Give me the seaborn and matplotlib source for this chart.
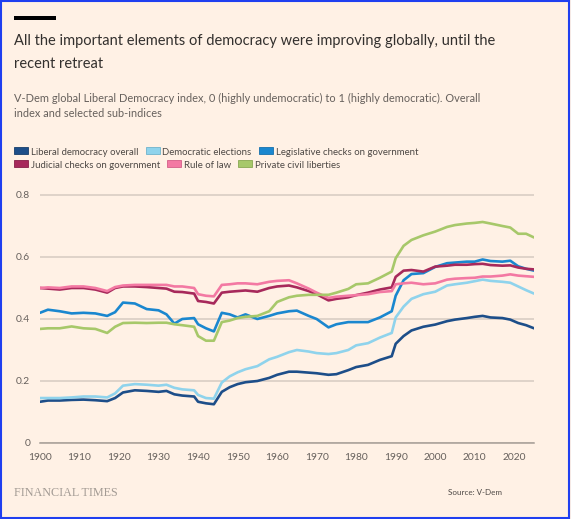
import matplotlib
matplotlib.use("Agg")
import matplotlib.pyplot as plt
from matplotlib.patches import Rectangle
import pandas as pd
import seaborn as sns

# values
years = [1900, 1902, 1905, 1908, 1911, 1914, 1917, 1919, 1921, 1924, 1927, 1930, 1932,
         1934, 1936, 1939, 1940, 1942, 1944, 1946, 1948, 1950, 1952, 1955, 1958, 1960,
         1963, 1965, 1968, 1970, 1973, 1975, 1978, 1980, 1983, 1986, 1989, 1990, 1992,
         1994, 1997, 2000, 2003, 2005, 2008, 2010, 2012, 2014, 2017, 2019, 2021, 2023, 2025]

liberal_democracy = [0.133, 0.137, 0.137, 0.139, 0.140, 0.138, 0.135, 0.145, 0.163, 0.170, 0.168, 0.165, 0.168,
                     0.157, 0.153, 0.150, 0.133, 0.128, 0.125, 0.165, 0.180, 0.190, 0.196, 0.200, 0.210, 0.220,
                     0.230, 0.230, 0.227, 0.225, 0.220, 0.222, 0.235, 0.245, 0.252, 0.268, 0.280, 0.320, 0.345,
                     0.363, 0.375, 0.382, 0.393, 0.398, 0.403, 0.407, 0.410, 0.405, 0.403, 0.398, 0.387, 0.380, 0.370]
democratic_elections = [0.145, 0.145, 0.145, 0.147, 0.150, 0.150, 0.147, 0.160, 0.185, 0.190, 0.188, 0.185, 0.188,
                        0.178, 0.173, 0.170, 0.155, 0.145, 0.143, 0.195, 0.215, 0.228, 0.238, 0.248, 0.270, 0.278,
                        0.293, 0.300, 0.295, 0.290, 0.287, 0.290, 0.300, 0.315, 0.322, 0.340, 0.355, 0.405, 0.440,
                        0.465, 0.480, 0.488, 0.508, 0.512, 0.517, 0.522, 0.527, 0.523, 0.520, 0.517, 0.505, 0.493, 0.482]
legislative_checks = [0.420, 0.430, 0.425, 0.418, 0.420, 0.418, 0.410, 0.422, 0.453, 0.450, 0.432, 0.428, 0.415,
                      0.385, 0.400, 0.403, 0.383, 0.370, 0.360, 0.420, 0.415, 0.405, 0.415, 0.400, 0.410, 0.418,
                      0.425, 0.427, 0.410, 0.400, 0.373, 0.383, 0.390, 0.390, 0.390, 0.405, 0.425, 0.475, 0.525,
                      0.545, 0.548, 0.568, 0.580, 0.582, 0.585, 0.585, 0.592, 0.587, 0.585, 0.588, 0.570, 0.562, 0.556]
judicial_checks = [0.500, 0.498, 0.495, 0.500, 0.500, 0.495, 0.485, 0.500, 0.505, 0.505, 0.503, 0.500, 0.498,
                   0.488, 0.487, 0.482, 0.458, 0.455, 0.450, 0.485, 0.488, 0.490, 0.492, 0.488, 0.500, 0.505,
                   0.508, 0.502, 0.490, 0.480, 0.460, 0.465, 0.470, 0.477, 0.485, 0.495, 0.502, 0.536, 0.556,
                   0.558, 0.553, 0.569, 0.572, 0.575, 0.575, 0.577, 0.578, 0.574, 0.572, 0.573, 0.566, 0.562, 0.560]
rule_of_law = [0.500, 0.502, 0.500, 0.505, 0.505, 0.500, 0.490, 0.503, 0.508, 0.510, 0.510, 0.510, 0.510,
               0.505, 0.505, 0.500, 0.480, 0.475, 0.473, 0.510, 0.512, 0.515, 0.515, 0.512, 0.520, 0.523,
               0.525, 0.515, 0.498, 0.485, 0.468, 0.472, 0.475, 0.477, 0.480, 0.487, 0.490, 0.512, 0.515,
               0.517, 0.512, 0.515, 0.527, 0.530, 0.532, 0.533, 0.537, 0.537, 0.540, 0.544, 0.540, 0.538, 0.536]
civil_liberties = [0.368, 0.370, 0.370, 0.376, 0.370, 0.368, 0.355, 0.375, 0.387, 0.388, 0.387, 0.388, 0.388,
                   0.383, 0.380, 0.375, 0.345, 0.330, 0.330, 0.390, 0.395, 0.403, 0.407, 0.410, 0.425, 0.455,
                   0.470, 0.475, 0.478, 0.478, 0.478, 0.485, 0.497, 0.512, 0.515, 0.533, 0.553, 0.596, 0.636,
                   0.655, 0.670, 0.682, 0.697, 0.703, 0.708, 0.710, 0.713, 0.708, 0.700, 0.695, 0.675, 0.675, 0.663]

series_names = ["Liberal democracy overall", "Democratic elections", "Legislative checks on government",
                "Judicial checks on government", "Rule of law", "Private civil liberties"]
series_colors = ["#1d4e89", "#8fd3ec", "#1a87cf", "#a7295b", "#f379a3", "#a7c86a"]
edge_colors = ["#163d6b", "#6fb3cc", "#1570ad", "#871f48", "#d45e88", "#89a852"]

x_ticks = list(range(1900, 2021, 10))
y_ticks = [0, 0.2, 0.4, 0.6, 0.8]
y_tick_labels = ["0", "0.2", "0.4", "0.6", "0.8"]

title_lines = ["All the important elements of democracy were improving globally, until the",
               "recent retreat"]
subtitle_lines = ["V-Dem global Liberal Democracy index, 0 (highly undemocratic) to 1 (highly democratic). Overall",
                  "index and selected sub-indices"]

BG = "#fff1e5"
W, H = 571, 519

wide = pd.DataFrame({"year": years})
for name, vals in zip(series_names, [liberal_democracy, democratic_elections, legislative_checks,
                                     judicial_checks, rule_of_law, civil_liberties]):
    wide[name] = vals
long_df = wide.melt(id_vars="year", var_name="series", value_name="value")

sns.set_style("white", {"axes.facecolor": BG, "figure.facecolor": BG})
plt.rcParams["font.family"] = ["Lato", "DejaVu Sans"]

fig = plt.figure(figsize=(W / 100, H / 100), dpi=100)
fig.patch.set_facecolor(BG)


def fx(px):
    return px / W


def fy(py):
    return 1 - py / H


ymax = 0.81
ax = fig.add_axes([fx(40), fy(443), fx(534 - 40), (ymax * 310) / H])
ax.set_facecolor(BG)

sns.lineplot(data=long_df, x="year", y="value", hue="series", hue_order=series_names,
             palette=dict(zip(series_names, series_colors)), linewidth=1.9,
             estimator=None, legend=False, ax=ax)

ax.set_xlim(1900, 2025)
ax.set_ylim(0, ymax)
ax.set_xticks(x_ticks)
ax.set_yticks(y_ticks)
ax.set_yticklabels(y_tick_labels)
ax.set_xlabel("")
ax.set_ylabel("")
ax.grid(axis="y", color="#d6cbc1", linewidth=1.1)
ax.set_axisbelow(True)
for s in ["top", "right", "left"]:
    ax.spines[s].set_visible(False)
ax.spines["bottom"].set_color("#a59d96")
ax.spines["bottom"].set_linewidth(1.1)
ax.tick_params(axis="x", length=4.5, width=1.1, color="#a59d96", pad=3,
               labelsize=7.4, labelcolor="#66605c")
ax.tick_params(axis="y", length=0, pad=7, labelsize=7.4, labelcolor="#66605c")

renderer = fig.canvas.get_renderer()


def fit(t, width_px):
    w = t.get_window_extent(renderer).width
    t.set_fontsize(t.get_fontsize() * width_px / w)


# header
fig.patches.append(Rectangle((fx(14), fy(19.5)), fx(42), 3 / H, transform=fig.transFigure,
                             facecolor="#000000", edgecolor="none"))
t1 = fig.text(fx(14), fy(45.5), title_lines[0], fontsize=12, color="#33302e", va="baseline")
fit(t1, 477)
fig.text(fx(14), fy(67.5), title_lines[1], fontsize=t1.get_fontsize(), color="#33302e", va="baseline")

s1 = fig.text(fx(14), fy(102), subtitle_lines[0], fontsize=8, color="#66605c", va="baseline")
fit(s1, 465)
fig.text(fx(14), fy(117), subtitle_lines[1], fontsize=s1.get_fontsize(), color="#66605c", va="baseline")

# legend laid out in two flowing rows
rows = [[0, 1, 2], [3, 4, 5]]
row_base = [155, 168]
probe = fig.text(0, 0, series_names[0], fontsize=7.5)
fit(probe, 108)
leg_size = probe.get_fontsize()
probe.remove()
for r, idxs in enumerate(rows):
    x = 14
    for i in idxs:
        fig.patches.append(Rectangle((fx(x), fy(row_base[r] - 1)), fx(14), 7 / H,
                                     transform=fig.transFigure, facecolor=series_colors[i],
                                     edgecolor=edge_colors[i], linewidth=0.6))
        t = fig.text(fx(x + 17), fy(row_base[r]), series_names[i], fontsize=leg_size,
                     color="#4d4845", va="baseline")
        x = x + 17 + t.get_window_extent(renderer).width + 7

# footer
ft = fig.text(fx(14), fy(496), "FINANCIAL TIMES", fontsize=9,
              family=["Liberation Serif", "DejaVu Serif"], color="#a39b94", va="baseline")
fit(ft, 104)
src = fig.text(fx(502), fy(495), "Source: V-Dem", fontsize=7, color="#4d4845",
               va="baseline", ha="right")
fit(src, 54)

# screenshot frame
fig.patches.append(Rectangle((fx(1), fy(518)), fx(568), 517 / H, transform=fig.transFigure,
                             facecolor="none", edgecolor="#1f3ff0", linewidth=1.5))

fig.savefig("out.png", dpi=100, facecolor=BG)
